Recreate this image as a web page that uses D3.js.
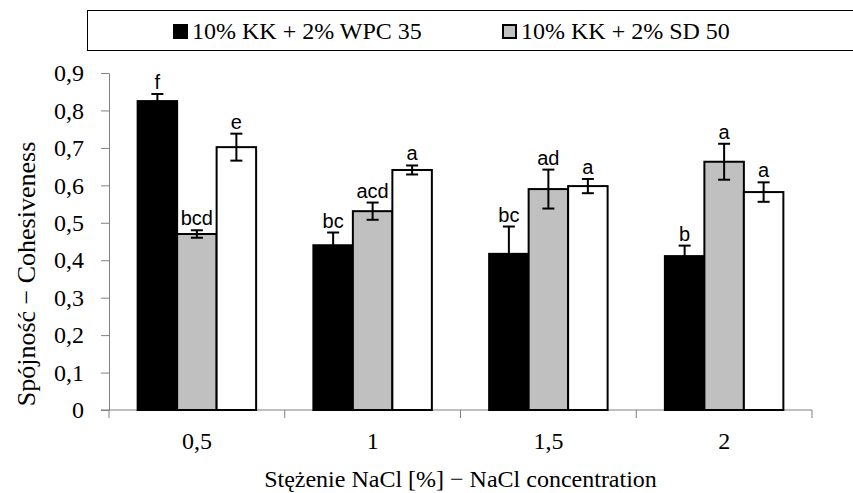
<!DOCTYPE html>
<html>
<head>
<meta charset="utf-8">
<script src="https://cdn.jsdelivr.net/npm/d3@7"></script>
<style>
  body { margin: 0; background: #fff; }
  svg { display: block; }
</style>
</head>
<body>
<div id="chart"></div>
<script>
// data
var categories = ["0,5", "1", "1,5", "2"];
var seriesNames = ["10% KK + 2% WPC 35", "10% KK + 2% SD 50", "10% KK + 2% SD 50 (b)"];
var seriesFill = ["#000000", "#c0c0c0", "#ffffff"];
var wpc35 = [0.825, 0.44, 0.417, 0.411];
var sd50 = [0.47, 0.531, 0.59, 0.663];
var third = [0.702, 0.641, 0.598, 0.582];
var wpc35Err = [0.019, 0.034, 0.073, 0.028];
var sd50Err = [0.01, 0.023, 0.052, 0.048];
var thirdErr = [0.036, 0.012, 0.019, 0.026];
var wpc35Labels = ["f", "bc", "bc", "b"];
var sd50Labels = ["bcd", "acd", "ad", "a"];
var thirdLabels = ["e", "a", "a", "a"];
var yTicks = [0, 0.1, 0.2, 0.3, 0.4, 0.5, 0.6, 0.7, 0.8, 0.9];

var width = 853, height = 493;
var plotLeft = 109, plotRight = 812, plotTop = 73, plotBottom = 410;

var svg = d3.select("#chart").append("svg")
  .attr("width", width)
  .attr("height", height);

var x = d3.scaleBand().domain(categories).range([plotLeft, plotRight]).paddingInner(0).paddingOuter(0);
var x1 = d3.scaleBand().domain([0, 1, 2]).range([0, x.bandwidth()]).paddingInner(0).paddingOuter(0.725);
var y = d3.scaleLinear().domain([0, 0.9]).range([plotBottom, plotTop]);

var fmt = function(d) { return d === 0 ? "0" : d3.format(".1f")(d).replace(".", ","); };

// y axis
var yAxis = svg.append("g")
  .attr("transform", "translate(" + plotLeft + ",0)")
  .call(d3.axisLeft(y).tickValues(yTicks).tickSize(8).tickFormat(fmt).tickSizeOuter(0));
yAxis.select(".domain").attr("stroke", "#808080");
yAxis.selectAll(".tick line").attr("stroke", "#808080");
yAxis.selectAll("text")
  .attr("x", -25)
  .attr("font-family", "Liberation Serif")
  .attr("font-size", 24)
  .attr("fill", "#000");

// x axis with ticks at band boundaries
var xAxisG = svg.append("g").attr("transform", "translate(0," + plotBottom + ")");
xAxisG.append("line").attr("x1", plotLeft - 8).attr("x2", plotRight).attr("stroke", "#808080");
var bounds = categories.map(function(c) { return x(c); }).concat([plotRight]);
xAxisG.selectAll(".bt").data(bounds).enter().append("line")
  .attr("x1", function(d) { return d; }).attr("x2", function(d) { return d; })
  .attr("y1", 0).attr("y2", 8).attr("stroke", "#808080");
xAxisG.selectAll(".cl").data(categories).enter().append("text")
  .attr("x", function(d) { return x(d) + x.bandwidth() / 2; })
  .attr("y", 39)
  .attr("text-anchor", "middle")
  .attr("font-family", "Liberation Serif")
  .attr("font-size", 24)
  .text(function(d) { return d; });

var series = [
  { vals: wpc35, err: wpc35Err, labels: wpc35Labels },
  { vals: sd50, err: sd50Err, labels: sd50Labels },
  { vals: third, err: thirdErr, labels: thirdLabels }
];

series.forEach(function(s, si) {
  var g = svg.append("g");
  var rows = categories.map(function(c, i) {
    return { cat: c, v: s.vals[i], e: s.err[i], lab: s.labels[i] };
  });
  g.selectAll("rect").data(rows).enter().append("rect")
    .attr("x", function(d) { return x(d.cat) + x1(si); })
    .attr("y", function(d) { return y(d.v); })
    .attr("width", x1.bandwidth())
    .attr("height", function(d) { return y(0) - y(d.v); })
    .attr("fill", seriesFill[si])
    .attr("stroke", "#000")
    .attr("stroke-width", 2);

  var cx = function(d) { return x(d.cat) + x1(si) + x1.bandwidth() / 2; };
  g.selectAll(".eb").data(rows).enter().append("line")
    .attr("x1", cx).attr("x2", cx)
    .attr("y1", function(d) { return y(d.v + d.e); })
    .attr("y2", function(d) { return y(d.v - d.e); })
    .attr("stroke", "#000").attr("stroke-width", 2);
  [1, -1].forEach(function(sg) {
    g.selectAll(".cap" + sg).data(rows).enter().append("line")
      .attr("x1", function(d) { return cx(d) - 6; })
      .attr("x2", function(d) { return cx(d) + 6; })
      .attr("y1", function(d) { return y(d.v + sg * d.e); })
      .attr("y2", function(d) { return y(d.v + sg * d.e); })
      .attr("stroke", "#000").attr("stroke-width", 2);
  });
  g.selectAll("text").data(rows).enter().append("text")
    .attr("x", cx)
    .attr("y", function(d) { return y(d.v + d.e) - 5; })
    .attr("text-anchor", "middle")
    .attr("font-family", "Liberation Sans")
    .attr("font-size", 20)
    .text(function(d) { return d.lab; });
});

// axis titles
svg.append("text")
  .attr("transform", "translate(35,274) rotate(-90)")
  .attr("text-anchor", "middle")
  .attr("font-family", "Liberation Serif")
  .attr("font-size", 26)
  .text("Spójność − Cohesiveness");

svg.append("text")
  .attr("x", (plotLeft + plotRight) / 2)
  .attr("y", 487)
  .attr("text-anchor", "middle")
  .attr("font-family", "Liberation Serif")
  .attr("font-size", 24)
  .text("Stężenie NaCl [%] − NaCl concentration");

// legend (box runs off the right edge)
var legend = svg.append("g");
legend.append("rect")
  .attr("x", 87.5).attr("y", 10.5)
  .attr("width", 800).attr("height", 40)
  .attr("fill", "#fff").attr("stroke", "#000").attr("stroke-width", 1);
var legendX = [174, 503];
[0, 1].forEach(function(i) {
  legend.append("rect")
    .attr("x", legendX[i]).attr("y", 25)
    .attr("width", 13).attr("height", 13)
    .attr("fill", seriesFill[i])
    .attr("stroke", "#000").attr("stroke-width", 2);
  legend.append("text")
    .attr("x", legendX[i] + 18).attr("y", 39)
    .attr("font-family", "Liberation Serif")
    .attr("font-size", 24)
    .text(seriesNames[i]);
});
</script>
</body>
</html>
